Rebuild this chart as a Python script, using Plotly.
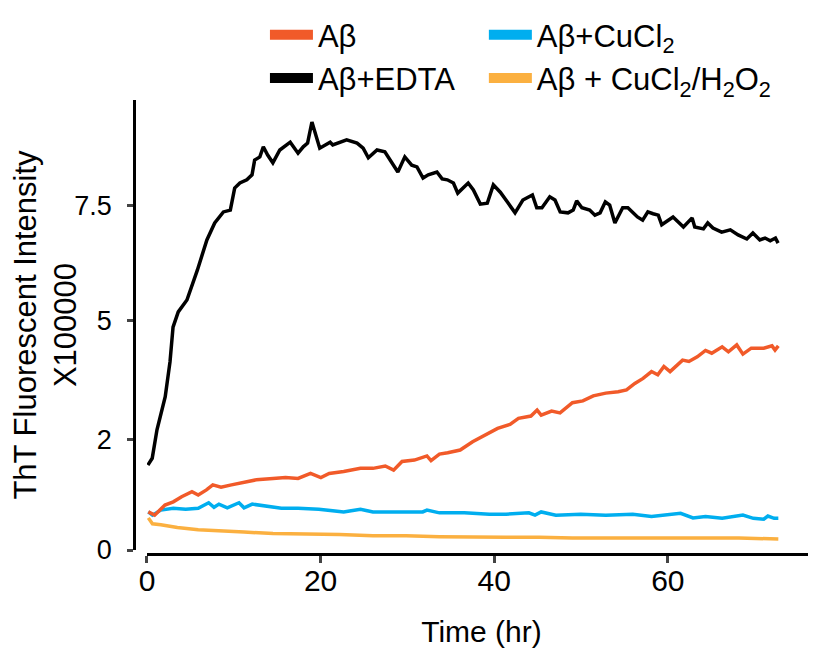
import plotly.graph_objects as go

# ---- data (time in hr, intensity x100000) ----
black_t = [0.1,0.6,1.15,2.1,2.65,3.0,3.6,4.6,5.8,6.9,7.8,8.8,9.6,10.1,10.7,11.5,12.1,12.4,13.0,13.4,
           13.9,14.5,15.3,16.5,17.4,18.0,18.5,19.0,19.9,21.1,21.4,23.0,24.2,24.9,25.5,26.5,27.4,
           28.0,28.9,29.7,30.5,31.1,31.8,32.4,33.4,34.0,34.6,35.3,35.8,37.0,37.6,38.4,39.2,39.9,40.7,
           41.5,42.4,43.3,44.4,44.9,45.5,46.4,47.0,47.6,48.5,49.1,49.5,50.1,51.0,51.6,52.2,52.8,53.3,
           53.9,54.8,55.4,56.5,57.1,57.7,58.3,58.9,59.3,60.6,61.8,62.8,63.1,64.1,64.6,65.2,66.2,67.2,
           68.1,69.1,69.8,70.6,71.2,71.8,72.4,72.7]
black_v = [1.85,2.0,2.62,3.34,4.1,4.86,5.19,5.45,6.10,6.76,7.13,7.37,7.41,7.89,8.0,8.07,8.18,8.50,8.57,8.79,
           8.61,8.44,8.72,8.89,8.65,8.79,8.87,9.33,8.76,8.89,8.83,8.94,8.87,8.76,8.55,8.72,8.68,
           8.50,8.24,8.57,8.39,8.35,8.11,8.18,8.24,8.09,8.07,8.00,7.78,8.00,7.85,7.54,7.56,7.96,7.80,
           7.59,7.35,7.63,7.74,7.46,7.46,7.70,7.63,7.37,7.35,7.41,7.61,7.46,7.41,7.30,7.35,7.59,7.52,
           7.13,7.46,7.46,7.26,7.19,7.37,7.33,7.30,7.09,7.26,7.04,7.24,7.04,7.00,7.13,7.02,6.93,6.98,
           6.87,6.78,6.91,6.76,6.80,6.74,6.80,6.69]

abeta_t = [0.15,0.88,2.07,3.03,3.99,5.18,5.90,6.85,7.58,8.53,9.73,10.93,12.60,14.52,15.96,17.40,18.84,
           20.03,20.99,22.66,24.59,26.03,27.45,28.41,29.38,30.81,32.25,32.72,33.69,34.64,36.08,37.51,
           38.95,40.39,41.82,42.79,44.23,44.94,45.41,46.61,47.58,49.01,50.21,51.41,52.85,54.28,55.24,
           56.20,57.15,58.12,58.84,59.55,60.26,60.99,61.70,62.43,63.39,64.34,65.06,66.26,66.98,67.94,
           68.65,69.61,71.05,72.00,72.35,72.73]
abeta_v = [0.83,0.76,0.98,1.05,1.16,1.27,1.20,1.31,1.42,1.37,1.42,1.47,1.53,1.56,1.58,1.56,1.67,
           1.58,1.67,1.71,1.78,1.78,1.83,1.74,1.93,1.96,2.05,1.95,2.09,2.12,2.18,2.36,
           2.51,2.65,2.74,2.87,2.92,3.05,2.94,3.03,2.99,3.21,3.25,3.36,3.42,3.45,3.49,
           3.63,3.74,3.89,3.82,4.00,3.89,4.03,4.14,4.11,4.21,4.35,4.29,4.43,4.32,4.47,
           4.27,4.40,4.40,4.45,4.36,4.45]

cu_t = [0.15,0.63,1.59,3.03,4.46,5.90,7.10,7.72,8.29,9.25,10.60,11.18,12.13,13.56,15.48,17.40,19.79,
        22.66,24.59,26.03,28.89,31.76,32.25,33.69,36.55,39.44,41.35,43.99,44.70,45.41,47.10,49.97,
        52.85,55.96,58.12,60.04,61.47,62.90,64.34,66.26,68.65,69.85,71.05,71.53,72.25,72.73]
cu_v = [0.83,0.76,0.87,0.91,0.89,0.91,1.03,0.93,1.00,0.92,1.03,0.92,1.00,0.96,0.91,0.91,0.89,
        0.83,0.89,0.83,0.83,0.83,0.87,0.81,0.81,0.78,0.78,0.81,0.76,0.83,0.76,0.78,
        0.76,0.78,0.73,0.76,0.80,0.70,0.73,0.69,0.76,0.69,0.67,0.74,0.69,0.69]

h2o2_t = [0.15,0.63,1.59,3.50,5.90,8.29,11.18,14.52,18.35,22.19,26.03,29.85,33.69,37.51,41.35,
          45.18,49.01,52.85,56.68,60.52,64.34,68.18,72.73]
h2o2_v = [0.70,0.57,0.55,0.49,0.44,0.41,0.39,0.36,0.35,0.34,0.31,0.31,0.29,0.28,0.28,
          0.28,0.26,0.26,0.26,0.26,0.26,0.26,0.24]

y_tickvals = [0, 2.4, 5, 7.5]
y_ticktext = ["0", "2", "5", "7.5"]
x_tickvals = [0, 20, 40, 60]

names = ["Aβ", "Aβ+CuCl<sub>2</sub>", "Aβ+EDTA", "Aβ + CuCl<sub>2</sub>/H<sub>2</sub>O<sub>2</sub>"]
colors = ["#F15A29", "#00AEEF", "#000000", "#FBB040"]
series = [(abeta_t, abeta_v), (cu_t, cu_v), (black_t, black_v), (h2o2_t, h2o2_v)]
legend_of = ["legend", "legend2", "legend", "legend2"]

FONT = "Liberation Sans"

fig = go.Figure()
# draw order: yellow, blue, orange, black on top
for i in [3, 1, 0, 2]:
    t, v = series[i]
    fig.add_trace(go.Scatter(x=t, y=v, mode="lines", line=dict(color=colors[i], width=3.5),
                             showlegend=False, hoverinfo="skip"))
# legend entries (rectangular swatches), two columns
for i in [0, 2, 1, 3]:
    fig.add_trace(go.Scatter(x=[None], y=[None], mode="lines", name=names[i],
                             line=dict(color=colors[i], width=10), legend=legend_of[i]))

leg_common = dict(orientation="v", yanchor="top", xanchor="left", bgcolor="rgba(0,0,0,0)",
                  font=dict(family=FONT, size=31, color="black"), traceorder="normal",
                  tracegroupgap=0, itemwidth=43)

fig.update_layout(
    width=808, height=642,
    margin=dict(l=126, r=0, t=0, b=96),
    paper_bgcolor="white", plot_bgcolor="white",
    font=dict(family=FONT, size=30, color="black"),
    legend=dict(x=0.192, y=1.0, **leg_common),
    legend2=dict(x=0.513, y=1.0, **leg_common),
    xaxis=dict(domain=[0.01906, 1], range=[0, 77.07], anchor="free", position=0,
               tickvals=x_tickvals, ticks="outside", ticklen=7, tickwidth=2.5,
               showline=True, linewidth=2.5, linecolor="black", showgrid=False, zeroline=False,
               tickfont=dict(size=30), ticklabelstandoff=-8,
               title=dict(text="Time (hr)", font=dict(size=30), standoff=25)),
    yaxis=dict(domain=[0.00733, 0.8315], range=[0, 9.81], anchor="free", position=0,
               tickvals=y_tickvals, ticktext=y_ticktext, ticks="outside", ticklen=6, tickwidth=2.5,
               showline=True, linewidth=2.5, linecolor="black", showgrid=False, zeroline=False,
               tickfont=dict(size=27), ticklabelstandoff=10,
               title=dict(text="ThT Fluorescent Intensity<br>X100000", font=dict(size=31), standoff=0)),
)

fig.write_html("out.html")
